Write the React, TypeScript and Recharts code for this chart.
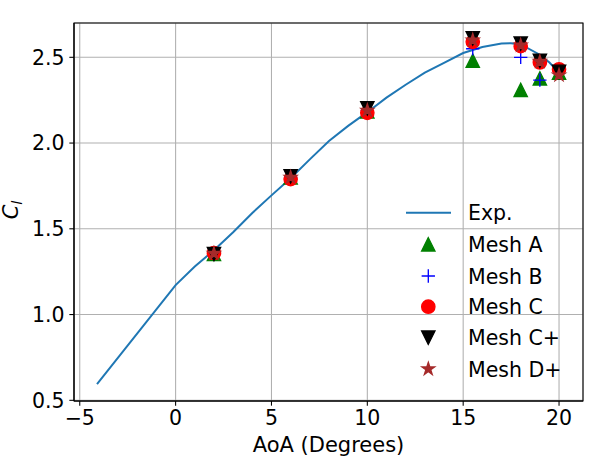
import {
  ComposedChart, Line, Scatter, XAxis, YAxis, CartesianGrid,
  ReferenceArea, Label
} from 'recharts';

// experimental lift curve
const expAoA = [-4.1, 0, 1, 2, 3, 4, 5, 6, 7, 8, 9, 10, 11, 12, 13, 14, 15, 16, 17, 17.5, 18, 19, 19.5, 20];
const expCl = [0.595, 1.172, 1.28, 1.375, 1.48, 1.592, 1.695, 1.795, 1.905, 2.012, 2.10, 2.18, 2.265, 2.34, 2.41, 2.468, 2.525, 2.56, 2.58, 2.582, 2.575, 2.515, 2.47, 2.41];

// CFD results, one array per mesh
const meshAoA = [2, 6, 10, 15.5, 18, 19, 20];
const meshA = [1.353, 1.80, 2.185, 2.48, 2.31, 2.377, 2.41];
const meshB = [1.36, 1.80, 2.19, 2.55, 2.50, 2.367, 2.42];
const meshC = [1.359, 1.79, 2.176, 2.59, 2.565, 2.47, 2.43];
const meshCPlus = [1.353, 1.806, 2.203, 2.61, 2.58, 2.48, 2.415];
const meshDPlus = [1.356, 1.80, 2.19, 2.60, 2.57, 2.475, 2.396];

const xTicks = [-5, 0, 5, 10, 15, 20];
const yTicks = [0.5, 1.0, 1.5, 2.0, 2.5];
const xDomain: [number, number] = [-5.3, 21.25];
const yDomain: [number, number] = [0.496, 2.70];

const expData = expAoA.map((x, i) => ({ x, y: expCl[i] }));
const toPoints = (ys: number[]) => meshAoA.map((x, i) => ({ x, y: ys[i] }));

const FONT = 'DejaVu Sans';
const FS = 20.5;
const R = 6.67;
const EW = 1.33;

type MarkerProps = { cx: number; cy: number; color: string };

function TriUp({ cx, cy, color }: MarkerProps) {
  return <path d={`M${cx},${cy - R}L${cx - R},${cy + R}L${cx + R},${cy + R}Z`} fill={color} stroke={color} strokeWidth={EW} />;
}
function TriDown({ cx, cy, color }: MarkerProps) {
  return <path d={`M${cx},${cy + R}L${cx - R},${cy - R}L${cx + R},${cy - R}Z`} fill={color} stroke={color} strokeWidth={EW} />;
}
function Dot({ cx, cy, color }: MarkerProps) {
  return <circle cx={cx} cy={cy} r={R} fill={color} stroke={color} strokeWidth={EW} />;
}
function Plus({ cx, cy, color }: MarkerProps) {
  return <path d={`M${cx - R},${cy}H${cx + R}M${cx},${cy - R}V${cy + R}`} stroke={color} strokeWidth={EW} fill="none" />;
}
function Star({ cx, cy, color }: MarkerProps) {
  const pts: string[] = [];
  for (let i = 0; i < 10; i++) {
    const a = -Math.PI / 2 + (i * Math.PI) / 5;
    const r = i % 2 === 0 ? R : R * 0.381966;
    pts.push(`${cx + r * Math.cos(a)},${cy + r * Math.sin(a)}`);
  }
  return <polygon points={pts.join(' ')} fill={color} stroke={color} strokeWidth={EW} />;
}

const series = [
  { name: 'Mesh A', data: meshA, color: '#008000', Marker: TriUp },
  { name: 'Mesh B', data: meshB, color: '#0000ff', Marker: Plus },
  { name: 'Mesh C', data: meshC, color: '#ff0000', Marker: Dot },
  { name: 'Mesh C+', data: meshCPlus, color: '#000000', Marker: TriDown },
  { name: 'Mesh D+', data: meshDPlus, color: '#a52a2a', Marker: Star },
];

const tickStyle = { fill: '#000', fontSize: FS, fontFamily: FONT };
const fmtX = (v: number) => (v < 0 ? `\u2212${-v}` : `${v}`);

function ChartLegend() {
  const rowY = [212.7, 244.3, 276, 306.7, 337.7, 369];
  return (
    <svg width={614} height={461} style={{ position: 'absolute', left: 0, top: 0, pointerEvents: 'none' }}>
      <line x1={406} x2={451} y1={rowY[0]} y2={rowY[0]} stroke="#1f77b4" strokeWidth={2} />
      <text x={468} y={rowY[0] + 7.5} fontSize={FS} fontFamily={FONT}>Exp.</text>
      {series.map((s, i) => (
        <g key={s.name}>
          <s.Marker cx={428.3} cy={rowY[i + 1]} color={s.color} />
          <text x={468} y={rowY[i + 1] + 7.5} fontSize={FS} fontFamily={FONT}>{s.name}</text>
        </g>
      ))}
    </svg>
  );
}

export default function App() {
  return (
    <div style={{ position: 'absolute', left: 0, top: 0, width: 614, height: 461, background: '#fff' }}>
      <ComposedChart width={614} height={461} margin={{ top: 23, right: 31, left: 14, bottom: 0 }}>
        <CartesianGrid stroke="#b0b0b0" strokeWidth={1.07} />
        <XAxis
          dataKey="x" type="number" domain={xDomain} ticks={xTicks} allowDataOverflow
          height={60} tick={tickStyle} tickFormatter={fmtX}
          tickSize={4.67} tickMargin={4.67}
          axisLine={{ stroke: '#000', strokeWidth: 1.07 }} tickLine={{ stroke: '#000', strokeWidth: 1.07 }}
        >
          <Label
            content={({ viewBox }: any) => (
              <text x={viewBox.x + viewBox.width / 2} y={452} textAnchor="middle" fontSize={21} fontFamily={FONT}>
                AoA (Degrees)
              </text>
            )}
          />
        </XAxis>
        <YAxis
          dataKey="y" type="number" domain={yDomain} ticks={yTicks} allowDataOverflow
          width={60} tick={tickStyle} tickFormatter={(v: number) => v.toFixed(1)}
          tickSize={4.67} tickMargin={4.67}
          axisLine={{ stroke: '#000', strokeWidth: 1.07 }} tickLine={{ stroke: '#000', strokeWidth: 1.07 }}
        >
          <Label
            content={() => (
              <text x={17.5} y={210} transform="rotate(-90 17.5 210)" textAnchor="middle" fontSize={21} fontFamily={FONT} fontStyle="italic">
                C<tspan fontSize={14.5} dy={4}>l</tspan>
              </text>
            )}
          />
        </YAxis>
        <ReferenceArea x1={xDomain[0]} x2={xDomain[1]} y1={yDomain[0]} y2={yDomain[1]} fill="none" stroke="#000" strokeWidth={1.07} fillOpacity={0} />
        <Line data={expData} dataKey="y" type="linear" stroke="#1f77b4" strokeWidth={2} dot={false} isAnimationActive={false} />
        {series.map((s) => (
          <Scatter
            key={s.name}
            name={s.name}
            data={toPoints(s.data)}
            dataKey="y"
            fill={s.color}
            isAnimationActive={false}
            shape={(p: any) => <s.Marker cx={p.cx} cy={p.cy} color={s.color} />}
          />
        ))}
      </ComposedChart>
      <ChartLegend />
    </div>
  );
}
